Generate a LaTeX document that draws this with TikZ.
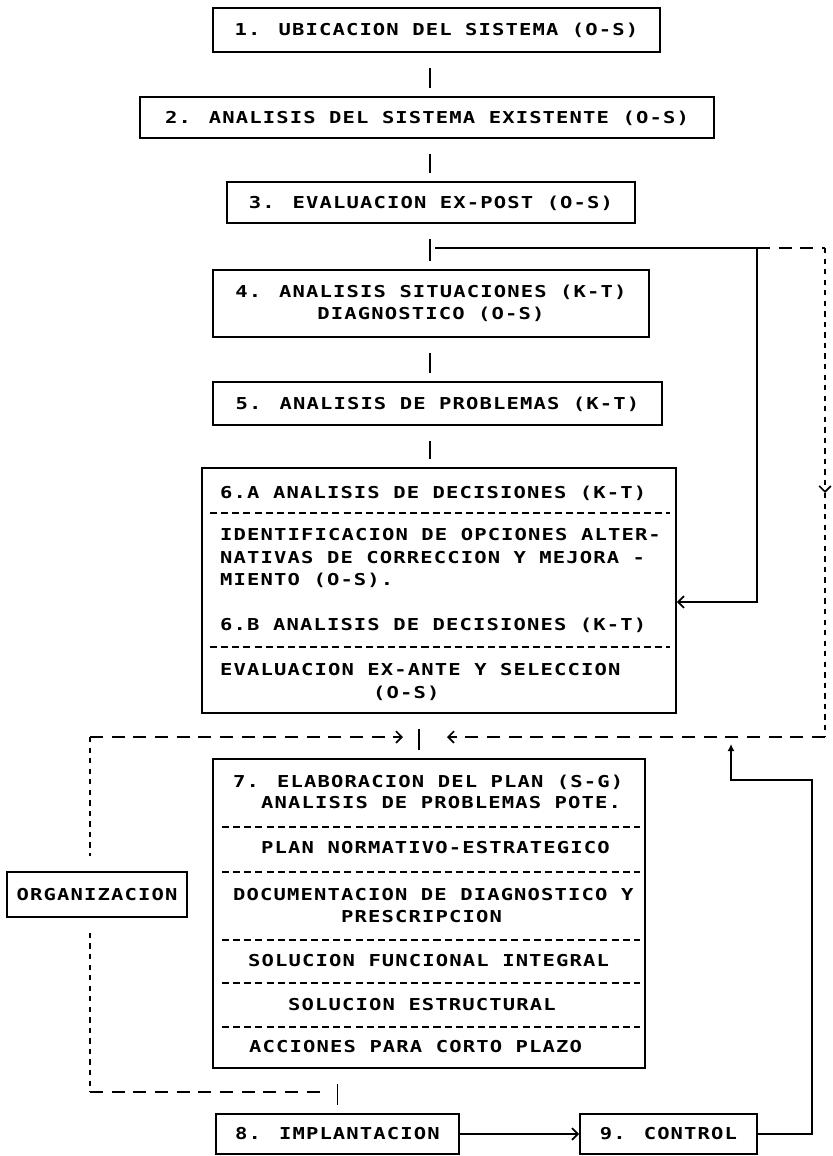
\documentclass[tikz,border=0pt]{standalone}
\usepackage{fontspec}
\newfontfamily\plotter{DejaVu Sans Mono}[FakeStretch=1.25,LetterSpace=7]
\usepackage{tikz}
\usetikzlibrary{arrows.meta}

\begin{document}
\begin{tikzpicture}[x=0.03cm,y=-0.03cm,
    caja/.style={draw,line width=1.5pt,inner sep=0pt,
      font=\plotter\bfseries\fontsize{14pt}{19pt}\selectfont},
    una/.style={caja,text height=10.2pt,text depth=0pt},
    linea/.style={inner sep=0pt,anchor=west,text height=10.2pt,text depth=0pt,
      font=\plotter\bfseries\fontsize{14pt}{19pt}\selectfont},
    sep/.style={line width=1pt,dash pattern=on 6pt off 3.5pt},
    flujo/.style={line width=1.5pt},
    barra/.style={flujo,shorten <=0.45cm,shorten >=0.24cm},
    trazo/.style={line width=1.4pt,dash pattern=on 11pt off 7.5pt},
    punteo/.style={line width=1.5pt,dash pattern=on 4.5pt off 4.5pt},
    punta/.style={-{Straight Barb[length=5pt,width=10pt]}}]
            \useasboundingbox (0,0) rectangle (832,1156);
            % cajas de la secuencia
            \node[una,minimum width=13.41cm,minimum height=1.32cm] (b1) at (436.5,30) {1. UBICACION DEL SISTEMA (O-S)};
            \node[una,minimum width=17.22cm,minimum height=1.23cm] (b2) at (427,117.5) {2. ANALISIS DEL SISTEMA EXISTENTE (O-S)};
            \node[una,minimum width=12.24cm,minimum height=1.23cm] (b3) at (431,202.5) {3. EVALUACION EX-POST (O-S)};
            \node[caja,align=center,minimum width=13.08cm,minimum height=2.01cm] (b4) at (431,303.5) {4. ANALISIS SITUACIONES (K-T)\\DIAGNOSTICO (O-S)};
            \node[una,minimum width=13.47cm,minimum height=1.29cm] (b5) at (437.5,403.5) {5. ANALISIS DE PROBLEMAS (K-T)};
            \node[caja,minimum width=14.22cm,minimum height=7.35cm] (b6) at (439,590.5) {};
            \node[caja,minimum width=12.96cm,minimum height=9.27cm] (b7) at (429,913.5) {};
            \node[una,minimum width=7.29cm,minimum height=1.2cm] (b8) at (337.5,1134) {8. IMPLANTACION};
            \node[una,minimum width=5.31cm,minimum height=1.2cm] (b9) at (668.5,1134) {9. CONTROL};
            \node[una,minimum width=5.4cm,minimum height=1.35cm] (org) at (97,894.5) {ORGANIZACION};

            % textos de la caja 6
            \node[linea] (t6a) at (220,493) {6.A ANALISIS DE DECISIONES (K-T)};
            \node[linea] (t6b) at (220,535) {IDENTIFICACION DE OPCIONES ALTER-};
            \node[linea] (t6c) at (220,558) {NATIVAS DE CORRECCION Y MEJORA -};
            \node[linea] (t6d) at (220,580) {MIENTO (O-S).};
            \node[linea] (t6e) at (220,625) {6.B ANALISIS DE DECISIONES (K-T)};
            \node[linea] (t6f) at (220,670) {EVALUACION EX-ANTE Y SELECCION};
            \node[linea] (t6g) at (373,693) {(O-S)};
            \draw[sep] (210,513) -- (670,513);
            \draw[sep] (210,647) -- (670,647);

            % textos de la caja 7
            \node[linea] (t7a) at (233,782) {7. ELABORACION DEL PLAN (S-G)};
            \node[linea] (t7b) at (261,803) {ANALISIS DE PROBLEMAS POTE.};
            \node[linea] (t7c) at (261,848) {PLAN NORMATIVO-ESTRATEGICO};
            \node[linea] (t7d) at (233,895) {DOCUMENTACION DE DIAGNOSTICO Y};
            \node[linea] (t7e) at (341,917) {PRESCRIPCION};
            \node[linea] (t7f) at (248,961) {SOLUCION FUNCIONAL INTEGRAL};
            \node[linea] (t7g) at (288,1005) {SOLUCION ESTRUCTURAL};
            \node[linea] (t7h) at (249,1047) {ACCIONES PARA CORTO PLAZO};
            \draw[sep] (222,827) -- (640,827);
            \draw[sep] (222,872) -- (640,872);
            \draw[sep] (222,940) -- (640,940);
            \draw[sep] (222,983) -- (640,983);
            \draw[sep] (222,1027) -- (640,1027);

            % enlaces entre cajas
            \coordinate (eje) at (430,0);
            \coordinate (med) at (419,0);
            \draw[barra] (b1.south -| eje) -- (b2.north -| eje);
            \draw[barra] (b2.south -| eje) -- (b3.north -| eje);
            \draw[barra] (b3.south -| eje) -- (b4.north -| eje);
            \draw[barra] (b4.south -| eje) -- (b5.north -| eje);
            \draw[barra] (b5.south -| eje) -- (b6.north -| eje);
            \draw[barra] (b6.south -| med) -- (b7.north -| med);
            \draw[barra] (b7.south -| b8.north) -- (b8.north);
            \draw[flujo,punta] (b8.east) -- (b9.west);

            % retorno a la caja 6
            \coordinate (j3) at (435,248);
            \coordinate (r1) at (757,248);
            \coordinate (r2) at (825,248);
            \coordinate (r3) at (757,602);
            \coordinate (rm) at (825,493);
            \coordinate (r4) at (825,737);
            \coordinate (a2) at (447,737);
            \draw[flujo,punta] (j3) -- (r1) -- (r3) -- (b6.east |- r3);
            \draw[trazo] (r1) -- (r2);
            \draw[punteo,punta] (r2) -- (rm);
            \draw[punteo] (rm) -- (r4);
            \draw[trazo,punta] (r4) -- (a2);

            % lazo de la organizacion
            \coordinate (l1) at (90,737);
            \coordinate (a1) at (403,737);
            \coordinate (l2) at (90,1092);
            \coordinate (l3) at (328,1092);
            \draw[trazo,punta] (l1) -- (a1);
            \draw[punteo,shorten >=0.45cm] (l1) -- (org.north -| l1);
            \draw[punteo,shorten <=0.45cm] (org.south -| l1) -- (l2);
            \draw[trazo] (l2) -- (l3);

            % control
            \coordinate (c1) at (812,780);
            \coordinate (c2) at (731,780);
            \coordinate (c3) at (731,744);
            \draw[flujo,-{Latex[length=6pt,width=6pt]}] (b9.east) -- (b9.east -| c1) -- (c1) -- (c2) -- (c3);
        \end{tikzpicture}
\end{document}
